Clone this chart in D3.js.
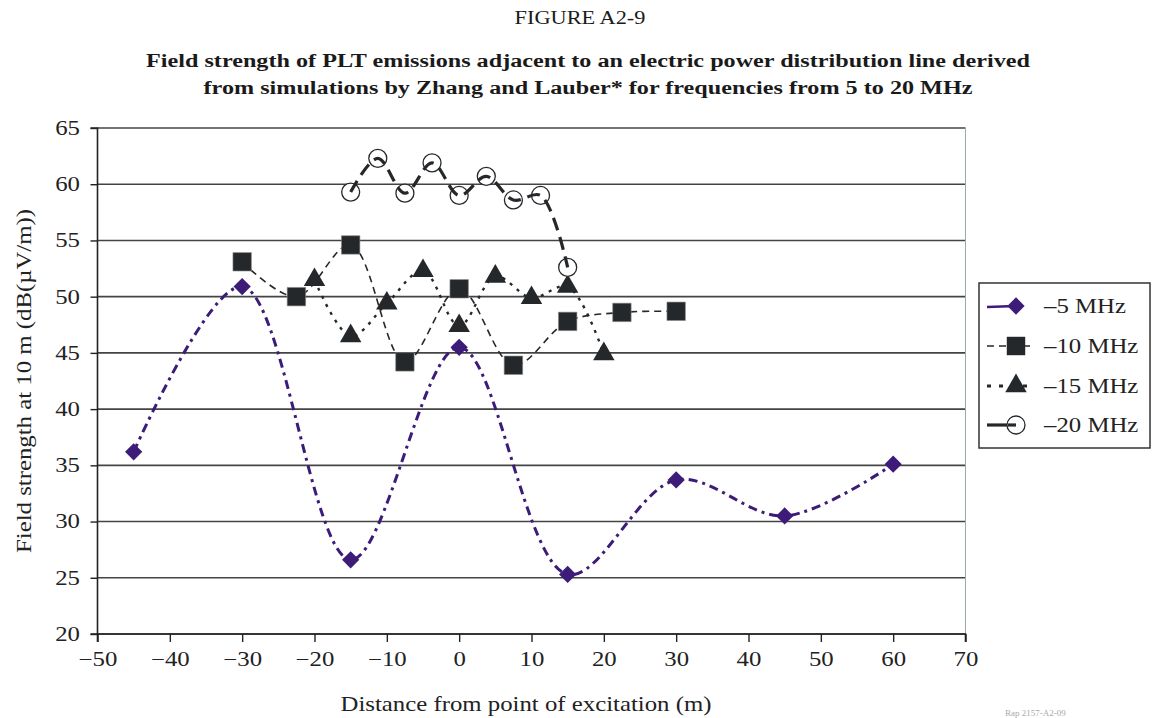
<!DOCTYPE html>
<html>
<head>
<meta charset="utf-8">
<script src="https://cdn.jsdelivr.net/npm/d3@7"></script>
<style>
  html, body { margin: 0; padding: 0; background: #fff; }
  svg { display: block; font-family: "Liberation Serif", "Times New Roman", serif; }
</style>
</head>
<body>
<svg id="chart" width="1153" height="718"></svg>
<script>
// ---------- data ----------
const figureLabel = "FIGURE A2-9";
const titleLines = [
  "Field strength of PLT emissions adjacent to an electric power distribution line derived",
  "from simulations by Zhang and Lauber* for frequencies from 5 to 20 MHz"
];
const xAxisTitle = "Distance from point of excitation (m)";
const yAxisTitle = "Field strength at 10 m (dB(\u00B5V/m))";
const xTicks = [-50, -40, -30, -20, -10, 0, 10, 20, 30, 40, 50, 60, 70];
const yTicks = [20, 25, 30, 35, 40, 45, 50, 55, 60, 65];
const seriesNames = ["\u20135 MHz", "\u201310 MHz", "\u201315 MHz", "\u201320 MHz"];

const x5  = [-45, -30, -15, 0, 15, 30, 45, 60];
const y5  = [36.2, 50.9, 26.6, 45.5, 25.3, 33.7, 30.5, 35.1];

const x10 = [-30, -22.5, -15, -7.5, 0, 7.5, 15, 22.5, 30];
const y10 = [53.1, 50.0, 54.6, 44.2, 50.7, 43.9, 47.8, 48.6, 48.7];

const x15 = [-20, -15, -10, -5, 0, 5, 10, 15, 20];
const y15 = [51.5, 46.5, 49.4, 52.3, 47.4, 51.8, 49.9, 50.9, 44.9];

const x20 = [-15, -11.25, -7.5, -3.75, 0, 3.75, 7.5, 11.25, 15];
const y20 = [59.3, 62.3, 59.2, 61.9, 59.0, 60.7, 58.6, 59.0, 52.6];

const footnote = "Rap 2157-A2-09";

// ---------- layout ----------
const svg = d3.select("#chart");
const plot = { left: 97.5, right: 965.5, top: 128, bottom: 634 };
const x = d3.scaleLinear().domain([-50, 70]).range([plot.left, plot.right]);
const y = d3.scaleLinear().domain([20, 65]).range([plot.bottom, plot.top]);

const purple = "#3c1c78";
const dark = "#25282b";
const gridCol = "#444";
const SX = 1.24; // horizontal stretch of the reference typeface

function stretchedText(parent, px, py, txt, size, opts = {}) {
  const t = parent.append("text")
    .attr("transform", `translate(${px},${py})${opts.rotate ? " rotate(" + opts.rotate + ")" : ""} scale(${SX},1)`)
    .attr("x", 0).attr("y", 0)
    .attr("text-anchor", opts.anchor || "middle")
    .attr("font-size", size).attr("fill", opts.fill || "#1a1a1a")
    .text(txt);
  if (opts.bold) t.attr("font-weight", "bold");
  return t;
}

// titles
stretchedText(svg, 580, 24, figureLabel, 18);
titleLines.forEach((t, i) => stretchedText(svg, 588, 67 + i * 27, t, 19.5, { bold: true }));

// gridlines
const g = svg.append("g");
g.selectAll("line.grid").data(yTicks).enter().append("line")
  .attr("x1", plot.left).attr("x2", plot.right)
  .attr("y1", d => y(d)).attr("y2", d => y(d))
  .attr("stroke", gridCol).attr("stroke-width", 1.6);

// right border
g.append("line").attr("x1", plot.right).attr("x2", plot.right)
  .attr("y1", plot.top).attr("y2", plot.bottom)
  .attr("stroke", "#9aa").attr("stroke-width", 1);

// axes
const yAxis = d3.axisLeft(y).tickValues(yTicks).tickSize(7).tickPadding(10);
const xAxis = d3.axisBottom(x).tickValues(xTicks).tickSize(8).tickPadding(10)
  .tickFormat(d => d < 0 ? "\u2212" + Math.abs(d) : String(d));

const ya = svg.append("g").attr("transform", `translate(${plot.left},0)`).call(yAxis);
const xa = svg.append("g").attr("transform", `translate(0,${plot.bottom})`).call(xAxis);
[ya, xa].forEach(a => {
  a.select(".domain").attr("stroke", "#222").attr("stroke-width", 1.6);
  a.selectAll(".tick line").attr("stroke", "#222").attr("stroke-width", 1.4);
  a.selectAll(".tick text").attr("font-size", 20).attr("fill", "#222")
    .attr("font-family", "Liberation Serif, Times New Roman, serif");
});
ya.selectAll(".tick text").attr("x", 0).attr("transform", `translate(-17.5,0) scale(${SX},1)`);
xa.selectAll(".tick text").attr("transform", `scale(${SX},1)`);
ya.select(".domain").attr("d", `M-7,${plot.top}H0V${plot.bottom}H-7`);
xa.select(".domain").attr("d", `M${plot.left},8V0H${plot.right}V8`);

// axis titles
stretchedText(svg, 526, 711, xAxisTitle, 20, { fill: "#222" });
stretchedText(svg, 31, 381, yAxisTitle, 20, { fill: "#222", rotate: -90 });

// ---------- series ----------
const curve = d3.curveCatmullRom.alpha(0.5);
const lineGen = d3.line().x(d => x(d[0])).y(d => y(d[1])).curve(curve);
const zip = (a, b) => a.map((v, i) => [v, b[i]]);

const s5 = zip(x5, y5), s10 = zip(x10, y10), s15 = zip(x15, y15), s20 = zip(x20, y20);

const diamond = d3.symbol().type(d3.symbolDiamond2).size(190);
const square = d3.symbol().type(d3.symbolSquare).size(340);
const triangle = d3.symbol().type(d3.symbolTriangle).size(200);

// -5 MHz
svg.append("path").attr("d", lineGen(s5)).attr("fill", "none")
  .attr("stroke", purple).attr("stroke-width", 3).attr("stroke-dasharray", "9,5,3,5");
svg.selectAll("path.m5").data(s5).enter().append("path")
  .attr("d", diamond).attr("transform", d => `translate(${x(d[0])},${y(d[1])})`)
  .attr("fill", purple);

// -10 MHz
svg.append("path").attr("d", lineGen(s10)).attr("fill", "none")
  .attr("stroke", dark).attr("stroke-width", 1.6).attr("stroke-dasharray", "7,5");
svg.selectAll("path.m10").data(s10).enter().append("path")
  .attr("d", square).attr("transform", d => `translate(${x(d[0])},${y(d[1])})`)
  .attr("fill", dark).attr("stroke", "#888").attr("stroke-width", 0.6);

// -15 MHz
svg.append("path").attr("d", lineGen(s15)).attr("fill", "none")
  .attr("stroke", dark).attr("stroke-width", 2.4).attr("stroke-dasharray", "3,6");
svg.selectAll("path.m15").data(s15).enter().append("path")
  .attr("d", triangle).attr("transform", d => `translate(${x(d[0])},${y(d[1])})`)
  .attr("fill", dark);

// -20 MHz (markers then line on top)
svg.selectAll("circle.m20").data(s20).enter().append("circle")
  .attr("cx", d => x(d[0])).attr("cy", d => y(d[1])).attr("r", 9)
  .attr("fill", "#fff").attr("stroke", dark).attr("stroke-width", 1.3);
svg.append("path").attr("d", lineGen(s20)).attr("fill", "none")
  .attr("stroke", dark).attr("stroke-width", 3.2).attr("stroke-dasharray", "13,7");

// ---------- legend ----------
const lg = svg.append("g");
lg.append("rect").attr("x", 979).attr("y", 283).attr("width", 171).attr("height", 165)
  .attr("fill", "#fff").attr("stroke", "#333").attr("stroke-width", 1.5);
const rows = [306, 346, 386, 425];
const lx = 1016;
// 5
lg.append("line").attr("x1", 987).attr("x2", lx).attr("y1", rows[0] + 1).attr("y2", rows[0])
  .attr("stroke", purple).attr("stroke-width", 2.5);
lg.append("path").attr("d", diamond).attr("transform", `translate(${lx},${rows[0]})`).attr("fill", purple);
// 10
lg.append("line").attr("x1", 987).attr("x2", 1033).attr("y1", rows[1]).attr("y2", rows[1])
  .attr("stroke", dark).attr("stroke-width", 1.6).attr("stroke-dasharray", "7,5");
lg.append("path").attr("d", square).attr("transform", `translate(${lx},${rows[1]})`).attr("fill", dark);
// 15
lg.append("line").attr("x1", 987).attr("x2", 1033).attr("y1", rows[2]).attr("y2", rows[2])
  .attr("stroke", dark).attr("stroke-width", 3).attr("stroke-dasharray", "4,8");
lg.append("path").attr("d", triangle).attr("transform", `translate(${lx},${rows[2]})`).attr("fill", dark);
// 20
lg.append("line").attr("x1", 987).attr("x2", 1008).attr("y1", rows[3]).attr("y2", rows[3])
  .attr("stroke", dark).attr("stroke-width", 3.2);
lg.append("circle").attr("cx", lx).attr("cy", rows[3]).attr("r", 9)
  .attr("fill", "#fff").attr("stroke", dark).attr("stroke-width", 1.3);
lg.append("line").attr("x1", 1008).attr("x2", lx).attr("y1", rows[3]).attr("y2", rows[3])
  .attr("stroke", dark).attr("stroke-width", 3.2);
seriesNames.forEach((n, i) => {
  stretchedText(lg, 1044, rows[i] + 7, n, 20, { anchor: "start", fill: "#222" });
});

// footnote (small, bottom-right)
svg.append("text").attr("x", 1005).attr("y", 716).attr("font-size", 9)
  .attr("fill", "#aaa").text(footnote);
</script>
</body>
</html>
